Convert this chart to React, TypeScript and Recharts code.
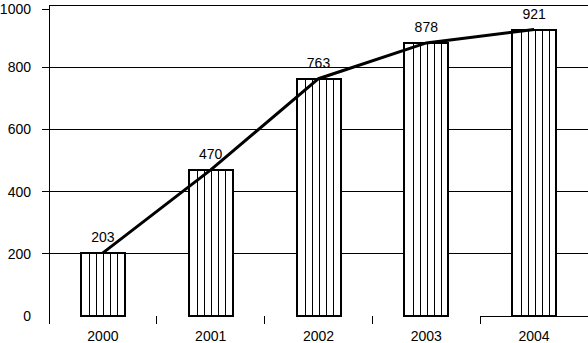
import React from 'react';
import { ComposedChart, Bar, Line, XAxis, YAxis, CartesianGrid, LabelList } from 'recharts';

const years = ['2000', '2001', '2002', '2003', '2004'];
const values = [203, 470, 763, 878, 921];
const yTicks = [0, 200, 400, 600, 800, 1000];
const gridValues = [200, 400, 600, 800, 1000];
const stripeFractions = [0.2, 0.36, 0.52, 0.68, 0.84];

const data = years.map((year, i) => ({ year, value: values[i] }));

const FONT = '"Liberation Sans", Arial, sans-serif';

const StripedBar = (props: any) => {
  const { x, y, width, height } = props;
  return (
    <g shapeRendering="crispEdges">
      <rect x={x} y={y} width={width} height={height} fill="#fff" stroke="#000" strokeWidth={2} />
      {stripeFractions.map((f, i) => (
        <line key={i} x1={x + width * f} x2={x + width * f} y1={y} y2={y + height} stroke="#000" strokeWidth={1} />
      ))}
    </g>
  );
};

const YTick = (props: any) => {
  const { x, y, payload } = props;
  return (
    <g>
      {payload.value > 0 && (
        <line x1={x + 11} x2={x + 18} y1={y} y2={y} stroke="#000" strokeWidth={1} shapeRendering="crispEdges" />
      )}
      <text x={x} y={y} dy={5} textAnchor="end" fill="#000" fontSize={14} fontFamily={FONT}>
        {payload.value}
      </text>
    </g>
  );
};

const XTick = (props: any) => {
  const { x, y, payload, index, visibleTicksCount } = props;
  const half = payload.offset ?? 0;
  const isLast = index === visibleTicksCount - 1;
  return (
    <g>
      <g shapeRendering="crispEdges" stroke="#000" strokeWidth={1}>
        <line x1={x - half} x2={x - half} y1={y} y2={y + 8} />
        {isLast && <line x1={x + half} x2={x + half} y1={y} y2={y + 8} />}
        {isLast && <line x1={x - half} x2={x + half} y1={y} y2={y} />}
      </g>
      <text x={x} y={y + 25} textAnchor="middle" fill="#000" fontSize={14} fontFamily={FONT}>
        {payload.value}
      </text>
    </g>
  );
};

export default function App() {
  return (
    <div style={{ position: 'absolute', left: 0, top: 0, background: '#fff' }}>
      <ComposedChart width={588} height={343} data={data} margin={{ top: 5, right: 0, bottom: 0, left: 0 }}>
        <CartesianGrid
          vertical={false}
          horizontalValues={gridValues}
          stroke="#000"
          strokeWidth={1}
          shapeRendering="crispEdges"
        />
        <XAxis
          dataKey="year"
          axisLine={false}
          tickLine={false}
          tickSize={0}
          tickMargin={0}
          height={27}
          interval={0}
          tick={<XTick />}
        />
        <YAxis
          domain={[0, 1000]}
          ticks={yTicks}
          width={49}
          tickLine={false}
          tickSize={7}
          tickMargin={11}
          axisLine={{ stroke: '#000', strokeWidth: 1, shapeRendering: 'crispEdges' }}
          tick={<YTick />}
        />
        <Bar dataKey="value" barSize={44} shape={<StripedBar />} isAnimationActive={false} />
        <Line
          dataKey="value"
          type="linear"
          stroke="#000"
          strokeWidth={3}
          dot={false}
          activeDot={false}
          isAnimationActive={false}
        >
          <LabelList dataKey="value" position="top" offset={11} fill="#000" fontSize={14} fontFamily={FONT} />
        </Line>
      </ComposedChart>
    </div>
  );
}
